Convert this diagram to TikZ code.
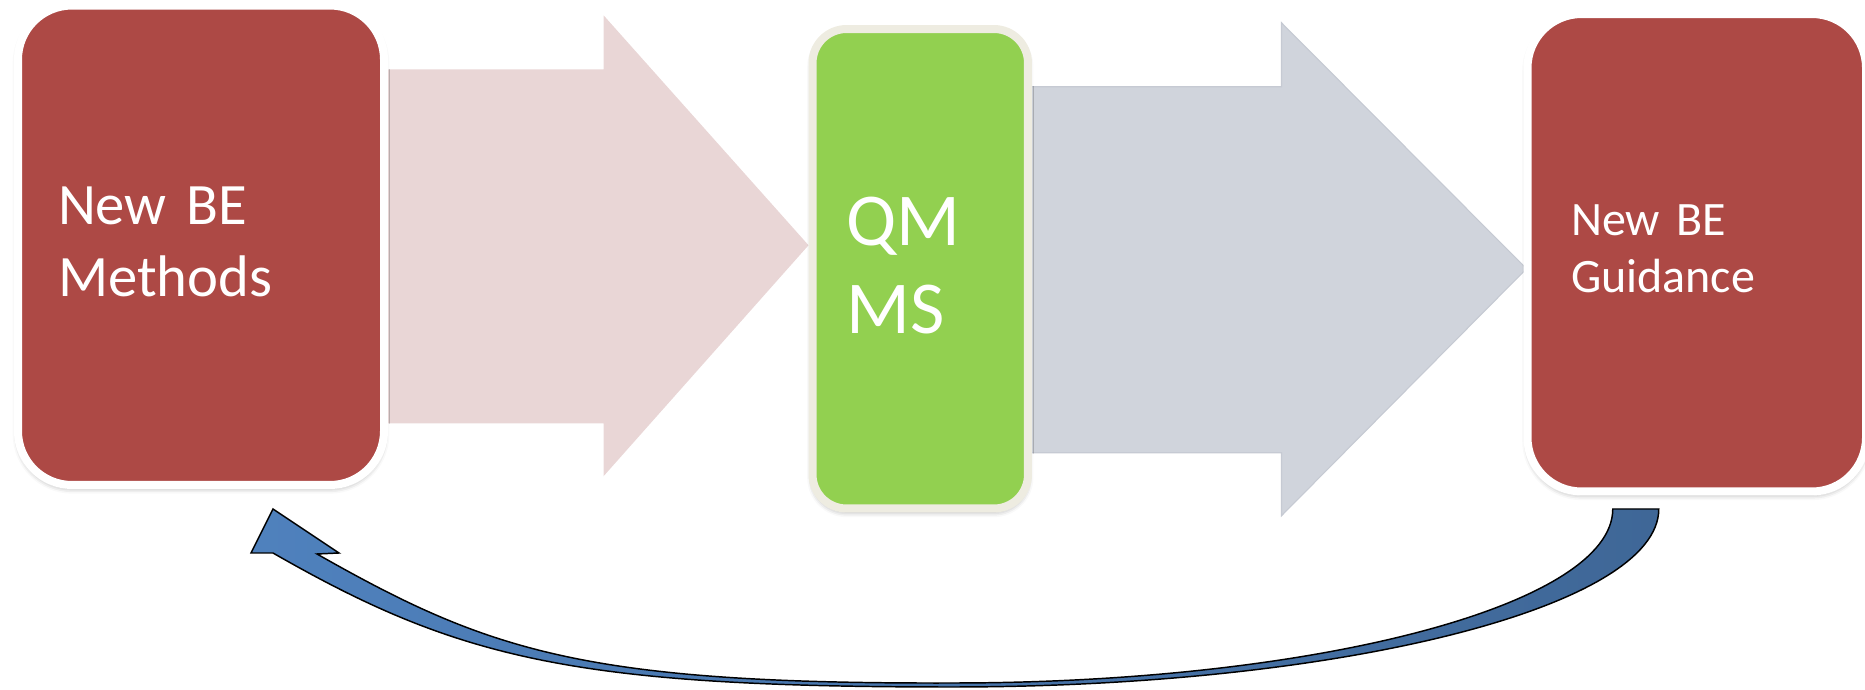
\documentclass[tikz,border=0pt]{standalone}
\usepackage{fontspec}
\setmainfont{Carlito}
\usetikzlibrary{calc,shadows.blur}
\definecolor{boxred}{HTML}{AD4945}
\definecolor{boxgreen}{HTML}{92D050}
\definecolor{greenrim}{HTML}{EEECE1}
\definecolor{pinkarrow}{HTML}{E9D6D6}
\definecolor{grayarrow}{HTML}{D0D4DC}
\definecolor{grayedge}{HTML}{C6CAD3}
\definecolor{blueL}{HTML}{4F81BD}
\definecolor{blueR}{HTML}{3F6797}
\pgfdeclarelayer{bg}
\pgfsetlayers{bg,main}
\begin{document}
\begin{tikzpicture}[x=0.75pt,y=-0.75pt,
  stage/.style={rectangle, line width=6pt, text=white, align=left,
    blur shadow={shadow xshift=0pt, shadow yshift=-2.5pt, shadow blur radius=4pt, shadow opacity=35}},
  redstage/.style={stage, draw=white, fill=boxred, rounded corners=40.5pt},
  greenstage/.style={stage, draw=greenrim, fill=boxgreen, rounded corners=25.5pt},
  pinkblock/.style={fill=pinkarrow},
  grayblock/.style={fill=grayarrow, draw=grayedge, line width=0.8pt},
  backarrow/.style={draw=black, line width=1.1pt, left color=blueL, right color=blueR}
]
\useasboundingbox (0,0) rectangle (1865,689);

% stages
\node[redstage, minimum width=274.5pt, minimum height=359.6pt, text width=214.5pt,
  font=\fontsize{44}{54}\selectfont] (A) at (201,245.25) {New BE\\Methods\rule[-5pt]{0pt}{0pt}};
\node[greenstage, minimum width=161.6pt, minimum height=359.6pt, text width=110.6pt,
  font=\fontsize{56}{66}\selectfont] (B) at (920.25,268.75) {QM\\MS\rule[-5pt]{0pt}{0pt}};
\node[redstage, minimum width=253.9pt, minimum height=358.1pt, text width=188.6pt,
  font=\fontsize{36}{43}\selectfont] (C) at (1696.75,252.75) {New BE\\Guidance\rule[-6pt]{0pt}{0pt}};

\coordinate (P) at (A.east -| B.west);
\coordinate (Q) at (C.west |- B.east);

% block arrows, behind the stages
\begin{pgfonlayer}{bg}
\fill[pinkblock] ($(A.east)+(-20,-176)$) -- ($(P)+(-205,-176)$) -- ($(P)+(-205,-230)$)
  -- (P) -- ($(P)+(-205,231)$) -- ($(P)+(-205,178)$) -- ($(A.east)+(-20,178)$) -- cycle;
\filldraw[grayblock] ($(B.east)+(-20,-182)$) -- ($(Q)+(-242,-182)$) -- ($(Q)+(-242,-246)$)
  -- ($(Q)+(3,0)$) -- ($(Q)+(-242,247)$) -- ($(Q)+(-242,184)$) -- ($(B.east)+(-20,184)$) -- cycle;
\end{pgfonlayer}

% curved feedback arrow from C back to A
\coordinate (t) at ($(C.south)+(-61,13.5)$);
\coordinate (h) at ($(A.south)+(72,20)$);
\path[backarrow]
  ($(t)+(23,0)$)
  .. controls ($(t)+(23,98)$) and ($(t)+(-294,178)$) .. ($(t)+(-684,178)$)
  .. controls ($(h)+(300,178)$) and ($(h)+(185,150)$) .. ($(h)+(0,44)$)
  -- ($(h)+(-22,44)$) -- (h) -- ($(h)+(66,44)$) -- ($(h)+(44,45)$)
  .. controls ($(h)+(215,142)$) and ($(h)+(310,175)$) .. ($(t)+(-684,174)$)
  .. controls ($(t)+(-319,174)$) and ($(t)+(-23,96)$) .. ($(t)+(-23,0)$)
  -- cycle;
\end{tikzpicture}
\end{document}
